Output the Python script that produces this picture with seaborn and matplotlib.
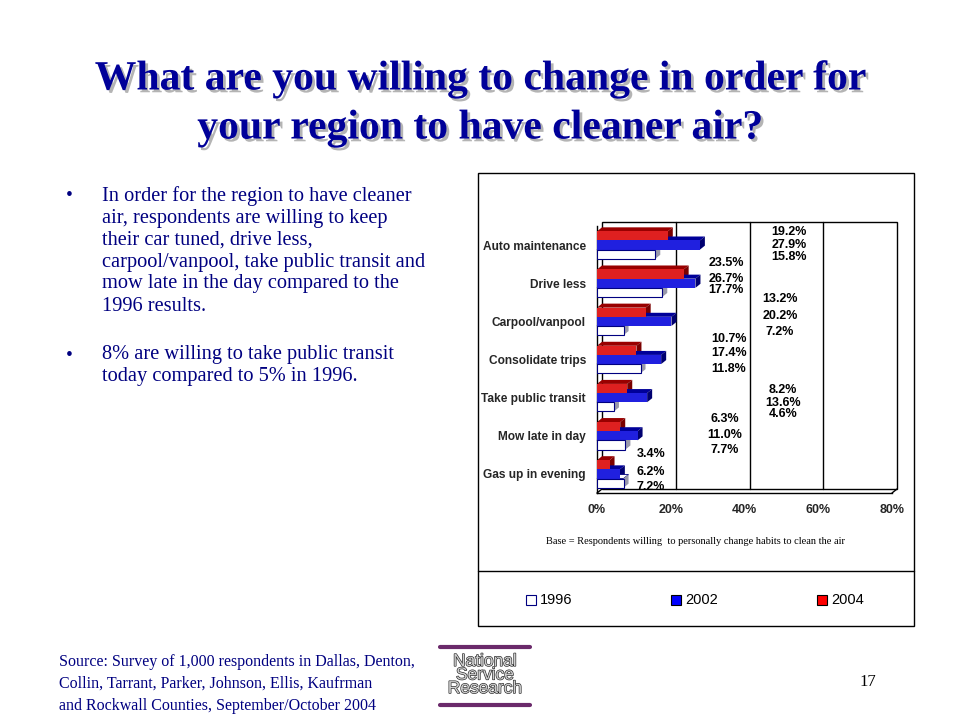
import matplotlib
matplotlib.use("Agg")
import matplotlib.pyplot as plt
import matplotlib.patheffects as pe
from matplotlib.patches import Rectangle, Polygon
from matplotlib.transforms import ScaledTranslation
import pandas as pd
import seaborn as sns

categories = ["Auto maintenance", "Drive less", "Carpool/vanpool", "Consolidate trips",
              "Take public transit", "Mow late in day", "Gas up in evening"]
years = ["2004", "2002", "1996"]
v2004 = [19.2, 23.5, 13.2, 10.7, 8.2, 6.3, 3.4]
v2002 = [27.9, 26.7, 20.2, 17.4, 13.6, 11.0, 6.2]
v1996 = [15.8, 17.7, 7.2, 11.8, 4.6, 7.7, 7.2]
x_ticks = [0, 20, 40, 60, 80]

# where powerpoint dumped the value labels (x in %, y offsets from category centre)
label_x = [52.0, 35.0, 49.6, 35.8, 50.4, 34.7, 14.6]
label_dy = [(-0.33, 0.0, 0.32), (-0.52, -0.11, 0.18), (-0.58, -0.15, 0.27),
            (-0.55, -0.16, 0.25), (-0.20, 0.13, 0.43), (-0.45, -0.01, 0.36),
            (-0.51, -0.05, 0.34)]

title = "What are you willing to change in order for\nyour region to have cleaner air?"
bullet1 = ["In order for the region to have cleaner",
           "air, respondents are willing to keep",
           "their car tuned, drive less,",
           "carpool/vanpool, take public transit and",
           "mow late in the day compared to the",
           "1996 results."]
bullet2 = ["8% are willing to take public transit",
           "today compared to 5% in 1996."]
source = ["Source: Survey of 1,000 respondents in Dallas, Denton,",
          "Collin, Tarrant, Parker, Johnson, Ellis, Kaufrman",
          "and Rockwall Counties, September/October 2004"]
base_note = "Base = Respondents willing  to personally change habits to clean the air"

colors = {"2004": "#ff0000", "2002": "#0000ff", "1996": "#ffffff"}
faces = {"2004": ("#990000", "#7a0000"), "2002": ("#000099", "#000070"), "1996": ("#ffffff", "#9999aa")}

sns.set_style("white")
plt.rcParams["font.family"] = ["Liberation Sans", "DejaVu Sans"]

W, H = 960, 720
def fx(px):
    return px / W
def fy(py):
    return 1 - py / H

fig = plt.figure(figsize=(9.6, 7.2), dpi=100)
fig.patch.set_facecolor("white")

# title with shadow
fig.text(0.5, fy(104), title, ha="center", va="center", fontsize=30, fontweight="bold",
         family="Liberation Serif", color="#000099", linespacing=1.38,
         path_effects=[pe.SimplePatchShadow(offset=(2, -2), shadow_rgbFace="#777777", alpha=0.55),
                       pe.Normal()])

navy = "#000080"
def bullets(lines, y0):
    fig.text(fx(66), fy(y0), "\u2022", ha="left", va="center", fontsize=14,
             family="Liberation Serif", color=navy)
    for i, line in enumerate(lines):
        fig.text(fx(102), fy(y0 + 22 * i), line, ha="left", va="center", fontsize=14.7,
                 family="Liberation Serif", color=navy)

bullets(bullet1, 196)
bullets(bullet2, 355)

for i, line in enumerate(source):
    fig.text(fx(59), fy(662 + 22 * i), line, ha="left", va="center", fontsize=11.5,
             family="Liberation Serif", color=navy)
fig.text(fx(868), fy(682), "17", ha="center", va="center", fontsize=12,
         family="Liberation Serif", color="black")

# logo
for py in (647, 705):
    fig.add_artist(plt.Line2D([fx(440), fx(530)], [fy(py), fy(py)], color="#6b2a6b", lw=3))
fig.text(fx(485), fy(675), "National\nService\nResearch", ha="center", va="center",
         fontsize=12.5, linespacing=0.88, color="#cfcfcf",
         path_effects=[pe.Stroke(linewidth=0.9, foreground="#222222"), pe.Normal()])

# chart frame
fig.add_artist(Rectangle((fx(478), fy(626)), 436 / W, 453 / H, transform=fig.transFigure,
                         fill=False, ec="black", lw=1))
fig.add_artist(plt.Line2D([fx(478), fx(914)], [fy(571), fy(571)], color="black", lw=1))
fig.text(fx(696), fy(541), base_note, ha="center", va="center", fontsize=7.5,
         family="Liberation Serif", color="black")

leg_pos = [("1996", 526), ("2002", 671), ("2004", 817)]
for yr, px in leg_pos:
    fig.add_artist(Rectangle((fx(px), fy(605)), 10 / W, 10 / H, transform=fig.transFigure,
                             fc=colors[yr], ec=navy if yr == "1996" else "#000000", lw=0.8))
    fig.text(fx(px + 14), fy(600), yr, ha="left", va="center", fontsize=10.5, color="black")

# plot area
ax = fig.add_axes([fx(597), fy(493), 295 / W, 267 / H])
ax.set_facecolor("none")

df = pd.DataFrame({
    "category": categories * 3,
    "year": ["2004"] * 7 + ["2002"] * 7 + ["1996"] * 7,
    "value": v2004 + v2002 + v1996,
})
sns.barplot(data=df, x="value", y="category", hue="year", hue_order=years, order=categories,
            palette=colors, orient="h", width=0.72, edgecolor="none", linewidth=0.8,
            legend=False, ax=ax, zorder=3)

ax.set_xlim(0, 80)
ax.set_ylim(6.5, -0.5)

# 3d depth in pixels -> data units
dpx, dpy = 5, 4
dxd = dpx * 80 / 295
dyd = dpy * 7 / 267
off = ax.transData + ScaledTranslation(dpx / 100, dpy / 100, fig.dpi_scale_trans)

for cont, yr in zip(ax.containers, years):
    top_c, side_c = faces[yr]
    for bar in cont:
        x0, y0 = bar.get_x(), bar.get_y()
        w, h = bar.get_width(), bar.get_height()
        yt, yb = y0, y0 + h
        if yr == "1996":
            bar.set_edgecolor(navy)
        bar.set_zorder(3)
        ax.add_patch(Polygon([(x0, yt), (x0 + dxd, yt - dyd), (x0 + w + dxd, yt - dyd), (x0 + w, yt)],
                             closed=True, fc=top_c, ec=navy if yr == "1996" else "none",
                             lw=0.6, zorder=2, clip_on=False))
        ax.add_patch(Polygon([(x0 + w, yt), (x0 + w + dxd, yt - dyd), (x0 + w + dxd, yb - dyd), (x0 + w, yb)],
                             closed=True, fc=side_c, ec="none", zorder=2, clip_on=False))

# back wall, gridlines, floor
ax.add_patch(Rectangle((0, -0.5), 80, 7, transform=off, fill=False, ec="black", lw=1,
                       zorder=1, clip_on=False))
for g in x_ticks[1:-1]:
    ax.plot([g, g], [-0.5, 6.5], transform=off, color="black", lw=1, zorder=1, clip_on=False)
ax.plot([0, dxd], [6.5, 6.5 - dyd], color="black", lw=1, zorder=1, clip_on=False)
ax.plot([80, 80 + dxd], [6.5, 6.5 - dyd], color="black", lw=1, zorder=1, clip_on=False)

sns.despine(ax=ax, top=True, right=True)
for s in ("left", "bottom"):
    ax.spines[s].set_color("black")
    ax.spines[s].set_linewidth(1)

ax.set_xticks(x_ticks)
ax.set_xticklabels([f"{t}%" for t in x_ticks], fontsize=9, fontweight="bold")
ax.set_yticks(range(len(categories)))
ax.set_yticklabels(categories, fontsize=8.6, fontweight="bold")
ax.set_yticks([i - 0.5 for i in range(len(categories) + 1)], minor=True)
ax.tick_params(axis="y", which="major", length=0, pad=8)
ax.tick_params(axis="y", which="minor", length=5, direction="out", color="black", width=1)
ax.tick_params(axis="x", which="major", length=4, direction="out", color="black", width=1, pad=4)
ax.set_xlabel("")
ax.set_ylabel("")

# value labels
vals = list(zip(v2004, v2002, v1996))
for i, trio in enumerate(vals):
    for v, dy in zip(trio, label_dy[i]):
        ax.text(label_x[i], i + dy, f"{v:.1f}%", ha="center", va="center", fontsize=9,
                fontweight="bold", color="black", zorder=4, clip_on=False)

fig.savefig("out.png", dpi=100, facecolor="white")
